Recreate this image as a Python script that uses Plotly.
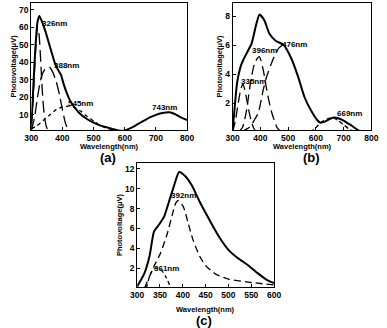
import plotly.graph_objects as go

# ---- panel (a) ----
a_x = [300, 305, 310, 315, 320, 326, 335, 345, 355, 365, 375, 385, 395, 405, 415, 425, 440, 460, 480, 500,
       520, 540, 560, 580, 600, 620, 640, 660, 680, 700, 720, 743, 760, 780, 800]
a_total = [2, 20, 38, 53, 63, 66.5, 63, 58, 52, 46, 40, 36, 33, 27, 22, 18, 14, 10, 7.5, 5.5,
           4, 3, 2, 1.0, 1.0, 2.5, 4.5, 6.5, 8.5, 10, 11, 11.5, 10.5, 8.5, 7]
a_p1_x = [300, 305, 310, 315, 320, 325, 330, 335, 340, 345, 350, 355]
a_p1_y = [5, 15, 33, 50, 60, 56, 42, 25, 13, 6, 2.5, 1]
a_p2_x = [300, 310, 320, 330, 340, 350, 360, 370, 380, 390, 400, 410, 420]
a_p2_y = [1, 8, 20, 30, 35, 37, 37, 34, 29, 22, 13, 5, 1]
a_p3_x = [300, 320, 340, 360, 380, 400, 420, 440, 460, 480, 500, 520, 540, 560, 580]
a_p3_y = [2, 4, 7, 10, 13, 14.5, 15, 14, 12, 9, 6.5, 4, 2.5, 1.5, 0.5]
a_labels = ['326nm', '388nm', '545nm', '743nm']
a_lab_x = [328, 367, 411, 680]
a_lab_y = [62, 38.5, 16.3, 14]

# ---- panel (b) ----
b_x = [300, 305, 316, 330, 339, 355, 368, 386, 397, 414, 432, 455, 484, 513, 536, 559, 582, 606, 616,
       630, 650, 664, 680, 698, 715, 732, 755, 800]
b_total = [0.2, 1.2, 3.4, 4.6, 5.0, 5.6, 6.1, 7.5, 8.1, 7.7, 6.8, 6.3, 6.0, 5.0, 3.8, 2.4, 1.5, 0.8, 0.65,
           0.7, 0.9, 1.0, 0.95, 0.8, 0.6, 0.4, 0.1, 0]
b_p1_x = [300, 310, 320, 330, 337, 345, 355, 365, 375, 385]
b_p1_y = [0, 0.8, 2.0, 3.0, 3.3, 2.8, 1.8, 0.9, 0.3, 0]
b_p2_x = [320, 335, 350, 365, 380, 396, 410, 420, 430, 440, 450, 460, 470]
b_p2_y = [0, 0.3, 1.5, 3.5, 4.8, 5.2, 4.3, 3.2, 2.2, 1.4, 0.8, 0.3, 0.1]
b_p3_x = [330, 350, 365, 380, 392, 410, 422, 437, 452, 467, 480]
b_p3_y = [0, 0.2, 0.4, 0.9, 1.3, 2.9, 3.8, 4.6, 5.3, 5.8, 6.0]
b_p4_x = [580, 600, 620, 640, 660, 680, 700, 720, 740]
b_p4_y = [0, 0.3, 0.7, 0.9, 1.0, 0.8, 0.5, 0.2, 0]
b_labels = ['335nm', '396nm', '476nm', '669nm']
b_lab_x = [324, 362, 470, 668]
b_lab_y = [3.5, 5.6, 6.07, 1.3]

# ---- panel (c) ----
c_x = [300, 316, 327, 337, 348, 359, 369, 380, 392, 405, 419, 437, 458, 479, 500, 521, 543, 564, 585, 600]
c_total = [0.15, 1.5, 3.2, 5.7, 6.4, 7.2, 8.6, 10.2, 11.7, 11.3, 10.4, 8.7, 6.9, 5.2, 3.85, 3.0, 2.3, 1.5, 0.8, 0.5]
c_p1_x = [316, 337, 351, 366, 377, 385, 390, 401, 412, 422, 437, 451, 472, 500, 543, 600]
c_p1_y = [0, 2.2, 3.5, 5.5, 7.4, 8.6, 8.8, 8.2, 6.5, 4.9, 3.2, 2.2, 1.4, 0.9, 0.6, 0.3]
c_p2_x = [320, 330, 340, 351, 362, 372]
c_p2_y = [0, 1.5, 2.0, 1.9, 1.2, 0.2]
c_labels = ['392nm', '361nm']
c_lab_x = [369, 332]
c_lab_y = [9.3, 2.0]

FONT = 'Liberation Sans'
fig = go.Figure()


def add_line(x, y, ax, dash='solid', width=1.3):
    fig.add_trace(go.Scatter(
        x=x, y=y, mode='lines', xaxis='x' + ax, yaxis='y' + ax,
        line=dict(color='black', width=width, dash=dash, shape='spline', smoothing=0.6),
        showlegend=False, hoverinfo='skip',
    ))


add_line(a_x, a_total, '', width=2)
add_line(a_p1_x, a_p1_y, '', dash='12px,5px')
add_line(a_p2_x, a_p2_y, '', dash='12px,5px')
add_line(a_p3_x, a_p3_y, '', dash='4px,3px')

add_line(b_x, b_total, '2', width=2)
add_line(b_p1_x, b_p1_y, '2', dash='10px,5px')
add_line(b_p2_x, b_p2_y, '2', dash='10px,5px')
add_line(b_p3_x, b_p3_y, '2', dash='10px,5px')
add_line(b_p4_x, b_p4_y, '2', dash='4px,3px')

add_line(c_x, c_total, '3', width=2)
add_line(c_p1_x, c_p1_y, '3', dash='7px,4px')
add_line(c_p2_x, c_p2_y, '3', dash='4px,3px')

annotations = []
for ax, labs, lx, ly in [('', a_labels, a_lab_x, a_lab_y),
                         ('2', b_labels, b_lab_x, b_lab_y),
                         ('3', c_labels, c_lab_x, c_lab_y)]:
    for t, x, y in zip(labs, lx, ly):
        annotations.append(dict(
            x=x, y=y, xref='x' + ax, yref='y' + ax, text='<b>%s</b>' % t,
            showarrow=False, xanchor='left', yanchor='middle',
            font=dict(family=FONT, size=8, color='black'),
        ))
# panel letters
for t, x, y in [('(a)', 0.271, 0.52), ('(b)', 0.817, 0.52), ('(c)', 0.527, 0.022)]:
    annotations.append(dict(
        x=x, y=y, xref='paper', yref='paper', text='<b>%s</b>' % t, showarrow=False,
        xanchor='center', yanchor='middle',
        font=dict(family=FONT, size=13, color='black'),
    ))
# x-axis titles, placed tight under the tick labels
for x, y in [(0.274, 0.553), (0.791, 0.553), (0.533, 0.057)]:
    annotations.append(dict(
        x=x, y=y, xref='paper', yref='paper', text='<b>Wavelength(nm)</b>', showarrow=False,
        xanchor='center', yanchor='middle',
        font=dict(family=FONT, size=7.5, color='black'),
    ))

axis_style = dict(
    showline=True, mirror=True, linecolor='black', linewidth=1.2,
    ticks='inside', ticklen=3, tickcolor='black', showgrid=False, zeroline=False,
    tickfont=dict(family=FONT, size=8.5, color='black'),
)
yt = dict(text='<b>Photovoltage(μV)</b>', font=dict(family=FONT, size=7.5, color='black'), standoff=1)

fig.update_layout(
    width=387, height=328,
    margin=dict(l=0, r=0, t=0, b=0),
    paper_bgcolor='white', plot_bgcolor='white',
    annotations=annotations,
    xaxis=dict(domain=[0.065, 0.483], range=[300, 800], tickvals=[300, 400, 500, 600, 700, 800],
               ticktext=['<b>%d</b>' % v for v in [300, 400, 500, 600, 700, 800]],
               anchor='y', **axis_style),
    yaxis=dict(domain=[0.604, 0.991], range=[1.4, 74], tickvals=[10, 20, 30, 40, 50, 60, 70],
               ticktext=['<b>%d</b>' % v for v in [10, 20, 30, 40, 50, 60, 70]],
               title=yt, anchor='x', **axis_style),
    xaxis2=dict(domain=[0.605, 0.977], range=[300, 800], tickvals=[300, 400, 500, 600, 700, 800],
                ticktext=['<b>%d</b>' % v for v in [300, 400, 500, 600, 700, 800]],
                anchor='y2', **axis_style),
    yaxis2=dict(domain=[0.604, 0.991], range=[0.15, 8.9], tickvals=[2, 4, 6, 8],
                ticktext=['<b>%d</b>' % v for v in [2, 4, 6, 8]],
                title=yt, anchor='x2', **axis_style),
    xaxis3=dict(domain=[0.349, 0.716], range=[300, 600], tickvals=[300, 350, 400, 450, 500, 550, 600],
                ticktext=['<b>%d</b>' % v for v in [300, 350, 400, 450, 500, 550, 600]],
                anchor='y3', **axis_style),
    yaxis3=dict(domain=[0.125, 0.503], range=[0.1, 12.6], tickvals=[2, 4, 6, 8, 10, 12],
                ticktext=['<b>%d</b>' % v for v in [2, 4, 6, 8, 10, 12]],
                title=yt, anchor='x3', **axis_style),
)

# drop the browser's default body margin so the figure sits at the page origin
fig.write_html('out.html', config={'displayModeBar': False},
               post_script="document.body.style.margin='0px';")
